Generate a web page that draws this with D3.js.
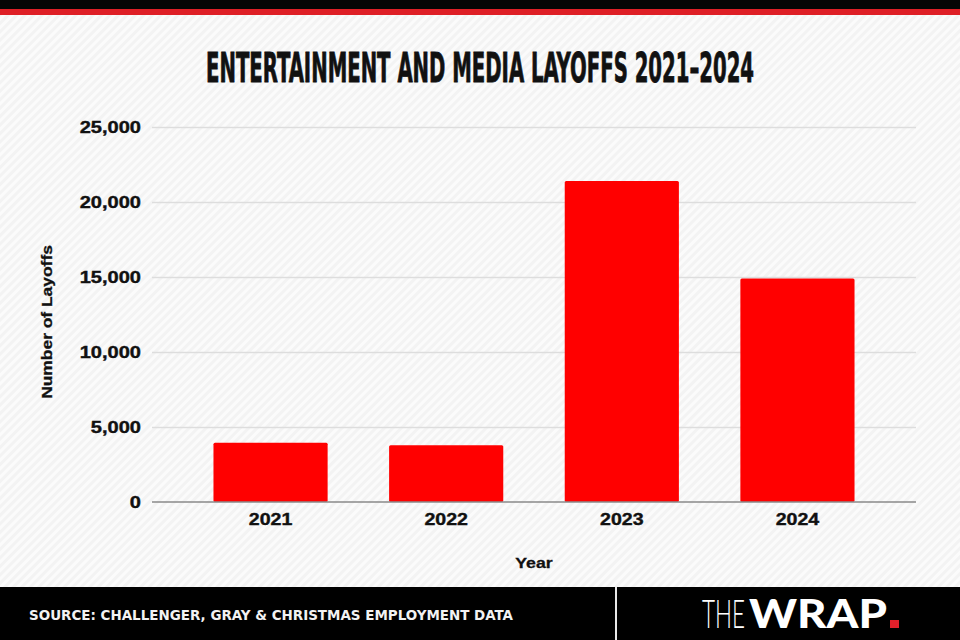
<!DOCTYPE html>
<html>
<head>
<meta charset="utf-8">
<script src="https://cdn.jsdelivr.net/npm/d3@7"></script>
<style>
html,body{margin:0;padding:0;background:#f4f4f4;}
svg{display:block;}
</style>
</head>
<body>
<svg id="chart" width="960" height="640"></svg>
<script>
const years = ["2021", "2022", "2023", "2024"];
const layoffs = [3950, 3780, 21400, 14900];
const yTicks = [0, 5000, 10000, 15000, 20000, 25000];
const titleText = "ENTERTAINMENT AND MEDIA LAYOFFS 2021–2024";
const sourceText = "SOURCE: CHALLENGER, GRAY & CHRISTMAS EMPLOYMENT DATA";

const W = 960, H = 640;
const svg = d3.select("#chart");
const defs = svg.append("defs");
const pat = defs.append("pattern").attr("id", "stripes")
  .attr("patternUnits", "userSpaceOnUse").attr("width", 6).attr("height", 6)
  .attr("patternTransform", "rotate(45)");
pat.append("rect").attr("width", 6).attr("height", 6).attr("fill", "#f3f3f3");
pat.append("rect").attr("width", 3).attr("height", 6).attr("fill", "#fbfbfb");

svg.append("rect").attr("width", W).attr("height", H).attr("fill", "url(#stripes)");

// top bars
svg.append("rect").attr("x", 0).attr("y", 0).attr("width", W).attr("height", 9).attr("fill", "#050505");
svg.append("rect").attr("x", 0).attr("y", 9).attr("width", W).attr("height", 6).attr("fill", "#de1f26");

// title
svg.append("text").attr("x", 480).attr("y", 82).attr("text-anchor", "middle")
  .attr("font-family", "'Liberation Sans Narrow','DejaVu Sans Condensed','Liberation Sans',sans-serif")
  .attr("font-weight", "bold").attr("font-size", 40).attr("fill", "#111")
  .attr("stroke", "#111").attr("stroke-width", 0.8)
  .attr("textLength", 548).attr("lengthAdjust", "spacingAndGlyphs")
  .text(titleText);

const plotL = 152, plotR = 916, y0 = 502, yTop = 127;
const x = d3.scaleBand().domain(years).range([plotL, plotR]).paddingInner(0.35).paddingOuter(0.35);
const y = d3.scaleLinear().domain([0, 25000]).range([y0, yTop]);

function widen(sel, k) {
  sel.each(function() {
    const w = this.getComputedTextLength();
    d3.select(this).attr("textLength", w * k).attr("lengthAdjust", "spacingAndGlyphs");
  });
}

// gridlines
const grid = svg.append("g").attr("transform", `translate(${plotL},0)`)
  .call(d3.axisLeft(y).tickValues(yTicks.filter(d => d > 0)).tickSize(-(plotR - plotL)).tickFormat(""));
grid.select(".domain").remove();
grid.selectAll("line").attr("stroke", "#dddddd").attr("stroke-width", 1.5);

// y axis labels
const yAxis = svg.append("g").attr("transform", `translate(${plotL},0)`)
  .call(d3.axisLeft(y).tickValues(yTicks).tickSize(0).tickPadding(11).tickFormat(d3.format(",")));
yAxis.select(".domain").remove();
yAxis.selectAll("text").attr("font-family", "'Liberation Sans',Arial,sans-serif")
  .attr("font-weight", "bold").attr("font-size", 17).attr("fill", "#111")
  .attr("stroke", "#111").attr("stroke-width", 0.4);
widen(yAxis.selectAll("text"), 1.18);

// bars
svg.append("g").selectAll("rect").data(years).join("rect")
  .attr("x", d => x(d)).attr("width", x.bandwidth())
  .attr("y", (d, i) => y(layoffs[i])).attr("height", (d, i) => y0 - y(layoffs[i]))
  .attr("rx", 1.5).attr("fill", "#ff0000");

// baseline
svg.append("line").attr("x1", plotL).attr("x2", plotR).attr("y1", y0).attr("y2", y0)
  .attr("stroke", "#8a8a8a").attr("stroke-width", 1.5);

// x axis labels
const xAxis = svg.append("g").attr("transform", `translate(0,${y0})`)
  .call(d3.axisBottom(x).tickSize(0).tickPadding(11));
xAxis.select(".domain").remove();
xAxis.selectAll("text").attr("font-family", "'Liberation Sans',Arial,sans-serif")
  .attr("font-weight", "bold").attr("font-size", 17).attr("fill", "#111")
  .attr("stroke", "#111").attr("stroke-width", 0.4);
widen(xAxis.selectAll("text"), 1.15);

// axis titles
const yt = svg.append("text").attr("transform", "translate(52,322) rotate(-90)").attr("text-anchor", "middle")
  .attr("font-family", "'Liberation Sans',Arial,sans-serif").attr("font-weight", "bold")
  .attr("font-size", 14.5).attr("fill", "#111").attr("stroke", "#111").attr("stroke-width", 0.3)
  .text("Number of Layoffs");
widen(yt, 1.2);
const xt = svg.append("text").attr("x", 534).attr("y", 568).attr("text-anchor", "middle")
  .attr("font-family", "'Liberation Sans',Arial,sans-serif").attr("font-weight", "bold")
  .attr("font-size", 15).attr("fill", "#111").attr("stroke", "#111").attr("stroke-width", 0.3)
  .text("Year");
widen(xt, 1.18);

// footer
svg.append("rect").attr("x", 0).attr("y", 587).attr("width", W).attr("height", H - 587).attr("fill", "#000");
svg.append("rect").attr("x", 615).attr("y", 587).attr("width", 2).attr("height", H - 587).attr("fill", "#e8e8e8");
svg.append("text").attr("x", 29).attr("y", 620)
  .attr("font-family", "'Liberation Sans Narrow','DejaVu Sans Condensed','Liberation Sans',sans-serif")
  .attr("font-weight", "bold").attr("font-size", 14).attr("fill", "#f2f2f2")
  .attr("textLength", 484).attr("lengthAdjust", "spacingAndGlyphs").text(sourceText);

// logo
svg.append("text").attr("x", 702).attr("y", 628)
  .attr("font-family", "Lato,Roboto,sans-serif").attr("font-weight", 300)
  .attr("font-size", 39).attr("fill", "#fff")
  .attr("textLength", 43).attr("lengthAdjust", "spacingAndGlyphs").text("THE");
svg.append("text").attr("x", 749).attr("y", 628)
  .attr("font-family", "Lato,Roboto,sans-serif").attr("font-weight", 900)
  .attr("font-size", 39).attr("fill", "#fff")
  .attr("textLength", 138).attr("lengthAdjust", "spacingAndGlyphs").text("WRAP");
svg.append("rect").attr("x", 890).attr("y", 620).attr("width", 9).attr("height", 8).attr("fill", "#e0202a");
</script>
</body>
</html>
